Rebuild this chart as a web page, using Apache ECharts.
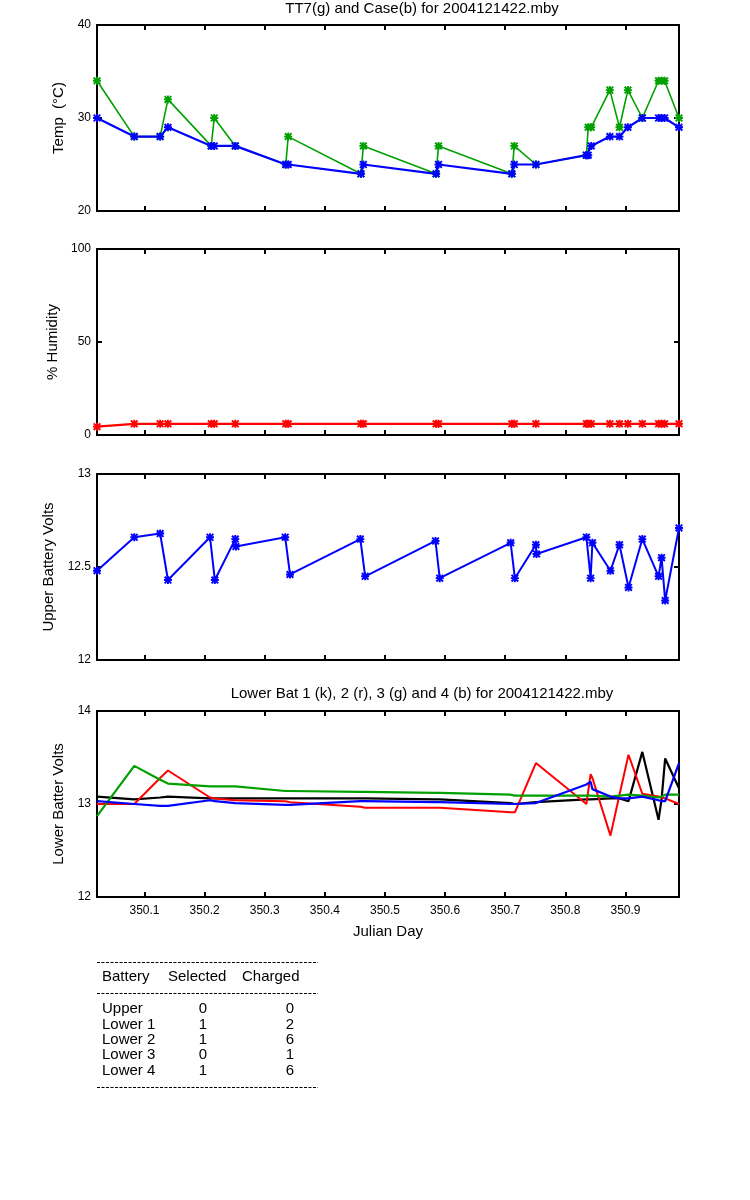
<!DOCTYPE html>
<html>
<head>
<meta charset="utf-8">
<script src="https://cdn.jsdelivr.net/npm/echarts@6/dist/echarts.min.js"></script>
<style>
  html, body { margin: 0; padding: 0; background: #fff; }
  #main { width: 750px; height: 1200px; }
</style>
</head>
<body>
<div id="main"></div>
<script>
  // sample times (Julian day) for temperature / humidity
  var sensorDays = [350.021, 350.083, 350.126, 350.139, 350.211, 350.216, 350.251, 350.335, 350.339,
    350.460, 350.464, 350.585, 350.589, 350.711, 350.715, 350.751, 350.835, 350.838, 350.843,
    350.874, 350.890, 350.904, 350.928, 350.955, 350.960, 350.965, 350.989];
  var tt7Temp = [34, 28, 28, 32, 27, 30, 27, 25, 28, 24, 27, 24, 27, 24, 27, 25, 26, 29, 29, 33, 29, 33, 30, 34, 34, 34, 30];
  var caseTemp = [30, 28, 28, 29, 27, 27, 27, 25, 25, 24, 25, 24, 25, 24, 25, 25, 26, 26, 27, 28, 28, 29, 30, 30, 30, 30, 29];
  var humidity = [4.5, 6, 6, 6, 6, 6, 6, 6, 6, 6, 6, 6, 6, 6, 6, 6, 6, 6, 6, 6, 6, 6, 6, 6, 6, 6, 6];

  // battery sample times
  var batteryDays = [350.021, 350.083, 350.126, 350.139, 350.209, 350.217, 350.251, 350.252, 350.334,
    350.342, 350.459, 350.467, 350.584, 350.591, 350.709, 350.716, 350.751, 350.752, 350.835,
    350.842, 350.845, 350.875, 350.890, 350.905, 350.928, 350.955, 350.960, 350.966, 350.989];
  var upperVolts = [12.48, 12.66, 12.68, 12.43, 12.66, 12.43, 12.65, 12.61, 12.66, 12.46, 12.65, 12.45, 12.64, 12.44,
    12.63, 12.44, 12.62, 12.57, 12.66, 12.44, 12.63, 12.48, 12.62, 12.39, 12.65, 12.45, 12.55, 12.32, 12.71];
  var lower1Volts = [13.08, 13.05, 13.07, 13.08, 13.06, 13.06, 13.06, 13.06, 13.06, 13.06, 13.06, 13.06, 13.05, 13.05,
    13.01, 13.00, 13.02, 13.03, 13.05, 13.05, 13.05, 13.06, 13.06, 13.03, 13.56, 12.83, 13.05, 13.49, 13.17];
  var lower2Volts = [13.00, 13.00, 13.28, 13.36, 13.07, 13.06, 13.04, 13.04, 13.03, 13.02, 12.97, 12.96, 12.96, 12.96,
    12.91, 12.91, 13.44, 13.43, 13.00, 13.32, 13.28, 12.66, 13.10, 13.53, 13.11, 13.08, 13.07, 13.06, 13.00];
  var lower3Volts = [12.87, 13.41, 13.26, 13.22, 13.19, 13.19, 13.19, 13.19, 13.14, 13.14, 13.13, 13.13, 13.12, 13.12,
    13.10, 13.09, 13.09, 13.09, 13.09, 13.09, 13.09, 13.08, 13.09, 13.10, 13.09, 13.07, 13.08, 13.10, 13.10];
  var lower4Volts = [13.03, 13.00, 12.98, 12.98, 13.04, 13.03, 13.01, 13.01, 12.99, 12.99, 13.03, 13.03, 13.02, 13.02,
    13.00, 13.00, 13.01, 13.01, 13.21, 13.24, 13.16, 13.08, 13.06, 13.06, 13.08, 13.04, 13.03, 13.03, 13.44];

  var dayMin = 350.021;
  var dayMax = 350.989;

  // summary table
  var batteryNames = ['Upper', 'Lower 1', 'Lower 2', 'Lower 3', 'Lower 4'];
  var selectedCounts = [0, 1, 1, 0, 1];
  var chargedCounts = [0, 2, 6, 1, 6];

  var FONT = '"Liberation Sans", Arial, sans-serif';
  // chunky asterisk like the matlab '*' marker
  var STAR = 'path://M3.8,0H6.2V10H3.8Z M0,3.8H10V6.2H0Z M0,1.7L1.7,0L10,8.3L8.3,10Z M8.3,0L10,1.7L1.7,10L0,8.3Z';

  function pairs(xs, ys) {
    return xs.map(function (x, i) { return [x, ys[i]]; });
  }

  var gridTops = [25, 249, 474, 711];
  var panels = [
    { min: 20, max: 40, interval: 10, name: 'Temp  (\u00b0C)', gap: 27 },
    { min: 0, max: 100, interval: 50, name: '% Humidity', gap: 32 },
    { min: 12, max: 13, interval: 0.5, name: 'Upper Battery Volts', gap: 39 },
    { min: 12, max: 14, interval: 1, name: 'Lower Batter Volts', gap: 27 }
  ];

  var axisLine = { show: true, onZero: false, lineStyle: { color: '#000', width: 2 } };
  var axisTick = { show: true, inside: true, length: 5, lineStyle: { color: '#000', width: 2 } };

  var grid = [], xAxis = [], yAxis = [];
  gridTops.forEach(function (top, g) {
    var last = g === gridTops.length - 1;
    grid.push({ left: 97, top: top, width: 582, height: 186, containLabel: false });
    ['bottom', 'top'].forEach(function (pos) {
      var labelled = last && pos === 'bottom';
      xAxis.push({
        type: 'value', gridIndex: g, position: pos,
        min: dayMin, max: dayMax, splitNumber: 10, minInterval: 0.1, maxInterval: 0.1,
        axisLine: axisLine, axisTick: axisTick, splitLine: { show: false },
        axisLabel: {
          show: labelled, color: '#000', fontSize: 12, fontFamily: FONT, margin: 8,
          showMinLabel: false, showMaxLabel: false,
          formatter: function (v) { return v.toFixed(1); }
        },
        name: labelled ? 'Julian Day' : '', nameLocation: 'middle', nameGap: 27,
        nameTextStyle: { color: '#000', fontSize: 15, fontFamily: FONT }
      });
    });
    var p = panels[g];
    ['left', 'right'].forEach(function (pos) {
      yAxis.push({
        type: 'value', gridIndex: g, position: pos,
        min: p.min, max: p.max, interval: p.interval,
        axisLine: axisLine, axisTick: axisTick, splitLine: { show: false },
        axisLabel: { show: pos === 'left', color: '#000', fontSize: 12, fontFamily: FONT, margin: 6 },
        name: pos === 'left' ? p.name : '', nameLocation: 'middle', nameGap: p.gap,
        nameTextStyle: { color: '#000', fontSize: 15, fontFamily: FONT }
      });
    });
  });

  function lineSeries(g, xs, ys, color, width, marker) {
    return {
      type: 'line', xAxisIndex: 2 * g, yAxisIndex: 2 * g,
      data: pairs(xs, ys),
      symbol: marker ? STAR : 'none', symbolSize: 8, showSymbol: !!marker,
      lineStyle: { color: color, width: width },
      itemStyle: { color: color },
      clip: false
    };
  }

  var series = [
    lineSeries(0, sensorDays, tt7Temp, '#00a000', 1.6, true),
    lineSeries(0, sensorDays, caseTemp, '#0000ff', 2.2, true),
    lineSeries(1, sensorDays, humidity, '#ff0000', 2.2, true),
    lineSeries(2, batteryDays, upperVolts, '#0000ff', 2, true),
    lineSeries(3, batteryDays, lower1Volts, '#000000', 2.2, false),
    lineSeries(3, batteryDays, lower2Volts, '#ff0000', 2, false),
    lineSeries(3, batteryDays, lower3Volts, '#00a000', 2.2, false),
    lineSeries(3, batteryDays, lower4Volts, '#0000ff', 2.2, false)
  ];

  // titles and the summary table
  var textFont = '15px ' + FONT;
  var graphic = [
    { type: 'text', x: 422, y: 9, style: { text: 'TT7(g) and Case(b) for 2004121422.mby', font: textFont, fill: '#000', align: 'center', verticalAlign: 'middle' } },
    { type: 'text', x: 422, y: 694, style: { text: 'Lower Bat 1 (k), 2 (r), 3 (g) and 4 (b) for 2004121422.mby', font: textFont, fill: '#000', align: 'center', verticalAlign: 'middle' } }
  ];
  [962.5, 993.5, 1087.5].forEach(function (y) {
    graphic.push({ type: 'line', shape: { x1: 97, y1: y, x2: 318, y2: y }, style: { stroke: '#000', lineWidth: 1, lineDash: [3, 1.5] } });
  });
  [['Battery', 102, 'left'], ['Selected', 168, 'left'], ['Charged', 242, 'left']].forEach(function (h) {
    graphic.push({ type: 'text', x: h[1], y: 977, style: { text: h[0], font: textFont, fill: '#000', align: h[2], verticalAlign: 'middle' } });
  });
  batteryNames.forEach(function (name, i) {
    var y = 1009 + i * 15.4;
    graphic.push({ type: 'text', x: 102, y: y, style: { text: name, font: textFont, fill: '#000', align: 'left', verticalAlign: 'middle' } });
    graphic.push({ type: 'text', x: 203, y: y, style: { text: String(selectedCounts[i]), font: textFont, fill: '#000', align: 'center', verticalAlign: 'middle' } });
    graphic.push({ type: 'text', x: 290, y: y, style: { text: String(chargedCounts[i]), font: textFont, fill: '#000', align: 'center', verticalAlign: 'middle' } });
  });

  var myChart = echarts.init(document.getElementById('main'));
  myChart.setOption({
    animation: false,
    backgroundColor: '#fff',
    grid: grid,
    xAxis: xAxis,
    yAxis: yAxis,
    series: series,
    graphic: graphic
  });
</script>
</body>
</html>
